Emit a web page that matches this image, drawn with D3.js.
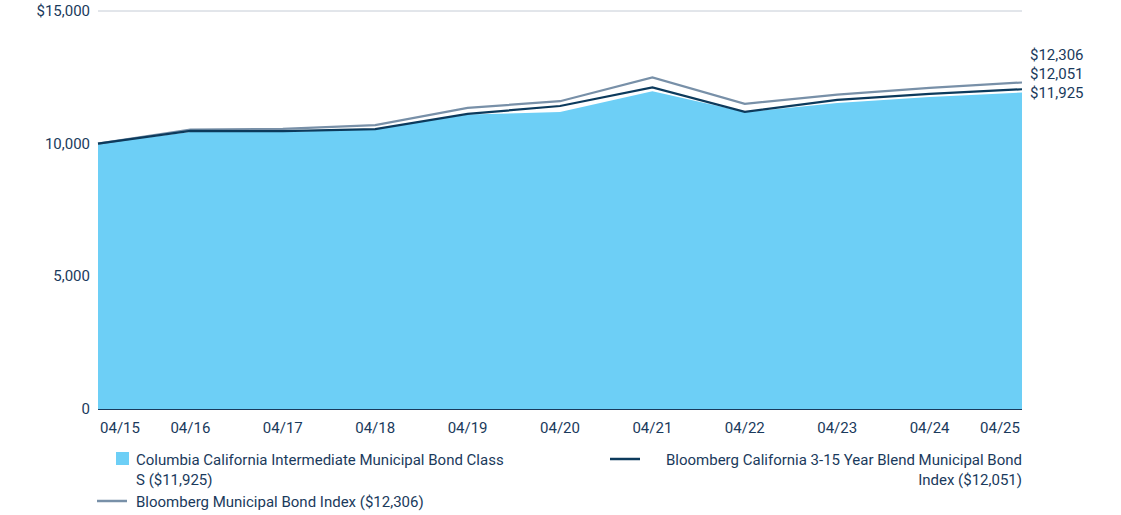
<!DOCTYPE html><html><head><meta charset="utf-8"><script src="https://d3js.org/d3.v7.min.js"></script>
<style>body{margin:0;background:#fff}text{font-family:Roboto,"DejaVu Sans",sans-serif}</style></head><body><svg id="c" width="1121" height="515"></svg>
<script>
const dates=["04/15","04/16","04/17","04/18","04/19","04/20","04/21","04/22","04/23","04/24","04/25"];
const fund=[10000,10440,10440,10550,11100,11190,11980,11190,11530,11760,11925];
const blend=[10000,10480,10470,10550,11120,11420,12120,11200,11650,11880,12051];
const muni=[10000,10530,10560,10700,11350,11600,12500,11500,11850,12100,12306];
const yTicks=[0,5000,10000,15000];
const svg=d3.select("#c");
const x=d3.scalePoint().domain(dates).range([98,1022]);
const y=d3.scaleLinear().domain([0,15000]).range([409,11]);
svg.append("g").selectAll("line").data(yTicks.slice(1)).join("line").attr("x1",98).attr("x2",1022).attr("y1",d=>y(d)).attr("y2",d=>y(d)).attr("stroke","#c5ccd6").attr("stroke-width",1);
svg.append("g").selectAll("text").data(yTicks).join("text").attr("x",90).attr("y",d=>y(d)+5).attr("text-anchor","end").attr("font-size",15).attr("fill","#1a3a5c").text(d=>d===15000?"$15,000":d3.format(",")(d));
svg.append("path").datum(fund).attr("fill","#6dcff6").attr("d",d3.area().x((d,i)=>x(dates[i])).y0(y(0)).y1(d=>y(d)));
const ln=d3.line().x((d,i)=>x(dates[i])).y(d=>y(d));
svg.append("path").datum(muni).attr("fill","none").attr("stroke","#7890a8").attr("stroke-width",2.2).attr("d",ln);
svg.append("path").datum(blend).attr("fill","none").attr("stroke","#0c3a5c").attr("stroke-width",2.2).attr("d",ln);
svg.append("line").attr("x1",98).attr("x2",1022).attr("y1",409.5).attr("y2",409.5).attr("stroke","#1a3a5c");
const lx={"04/15":120,"04/25":1000};
svg.append("g").selectAll("text").data(dates).join("text").attr("x",d=>lx[d]||x(d)).attr("y",433).attr("text-anchor","middle").attr("font-size",15).attr("fill","#1a3a5c").text(d=>d);
[["$12,306",60],["$12,051",79],["$11,925",98]].forEach(([t,yy])=>svg.append("text").attr("x",1030).attr("y",yy).attr("font-size",15).attr("fill","#1a3a5c").text(t));
svg.append("rect").attr("x",116).attr("y",452).attr("width",13).attr("height",13).attr("fill","#6dcff6");
svg.append("text").attr("x",136).attr("y",465).attr("font-size",15).attr("fill","#1a3a5c").text("Columbia California Intermediate Municipal Bond Class");
svg.append("text").attr("x",136).attr("y",485).attr("font-size",15).attr("fill","#1a3a5c").text("S ($11,925)");
svg.append("line").attr("x1",610).attr("x2",640).attr("y1",459).attr("y2",459).attr("stroke","#0c3a5c").attr("stroke-width",2.5);
svg.append("text").attr("x",1022).attr("y",465).attr("text-anchor","end").attr("font-size",15).attr("fill","#1a3a5c").text("Bloomberg California 3-15 Year Blend Municipal Bond");
svg.append("text").attr("x",1022).attr("y",485).attr("text-anchor","end").attr("font-size",15).attr("fill","#1a3a5c").text("Index ($12,051)");
svg.append("line").attr("x1",97).attr("x2",127).attr("y1",501).attr("y2",501).attr("stroke","#7890a8").attr("stroke-width",2.5);
svg.append("text").attr("x",136).attr("y",507).attr("font-size",15).attr("fill","#1a3a5c").text("Bloomberg Municipal Bond Index ($12,306)");
</script></body></html>
